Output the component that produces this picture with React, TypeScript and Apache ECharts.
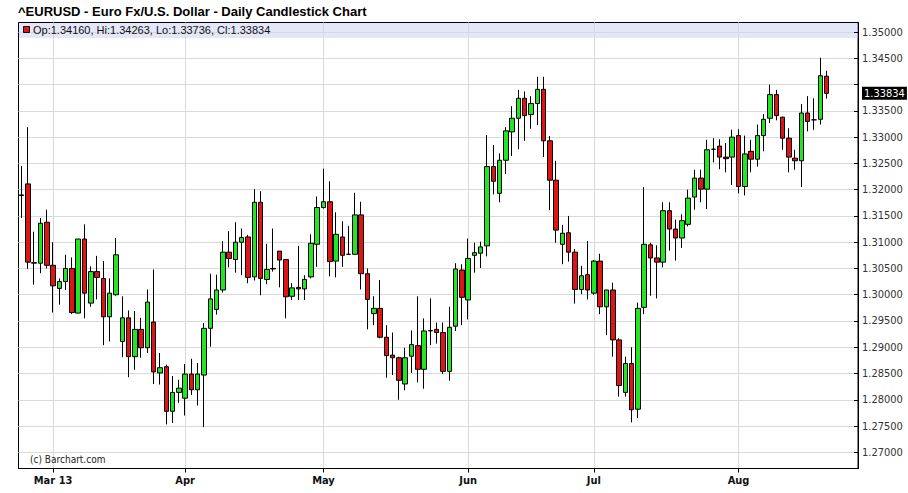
import React, { useEffect, useRef } from "react";
import * as echarts from "echarts";

// Daily EUR/USD candles, 22 Feb 2013 .. 21 Aug 2013 (trading-day index = x)
const opens = [
  1.3190, 1.3211, 1.3060, 1.3060, 1.3138, 1.3056, 1.3012, 1.3025, 1.3050, 1.2965,
  1.3106, 1.2984, 1.3044, 1.3031, 1.2958, 1.3000, 1.2911, 1.2956, 1.2882, 1.2934,
  1.2899, 1.2948, 1.2851, 1.2863, 1.2778, 1.2814, 1.2803, 1.2849, 1.2819, 1.2847,
  1.2936, 1.2972, 1.3009, 1.3081, 1.3067, 1.3100, 1.3110, 1.3034, 1.3176, 1.3029,
  1.3049, 1.3083, 1.3067, 1.2997, 1.3014, 1.3011, 1.3034, 1.3096, 1.3166, 1.3177,
  1.3064, 1.3110, 1.3077, 1.3077, 1.3152, 1.3040, 1.2964, 1.2974, 1.2919, 1.2885,
  1.2880, 1.2830, 1.2883, 1.2903, 1.2858, 1.2931, 1.2934, 1.2928, 1.2854, 1.2940,
  1.3047, 1.2990, 1.3075, 1.3079, 1.3093, 1.3244, 1.3193, 1.3256, 1.3310, 1.3336,
  1.3374, 1.3343, 1.3364, 1.3391, 1.3293, 1.3218, 1.3096, 1.3118, 1.3081, 1.3010,
  1.3038, 1.3003, 1.3064, 1.2977, 1.3009, 1.2914, 1.2814, 1.2869, 1.2782, 1.2976,
  1.3095, 1.3070, 1.3062, 1.3160, 1.3125, 1.3108, 1.3134, 1.3186, 1.3222, 1.3201,
  1.3277, 1.3283, 1.3262, 1.3262, 1.3303, 1.3206, 1.3273, 1.3258, 1.3303, 1.3336,
  1.3381, 1.3338, 1.3298, 1.3260, 1.3255, 1.3346, 1.3333, 1.3334, 1.3416,
];
const highs = [
  1.3245, 1.3319, 1.3120, 1.3146, 1.3162, 1.3100, 1.3031, 1.3076, 1.3071, 1.3106,
  1.3134, 1.3054, 1.3074, 1.3064, 1.3031, 1.3108, 1.2997, 1.2970, 1.2969, 1.2956,
  1.3010, 1.3048, 1.2889, 1.2867, 1.2845, 1.2838, 1.2868, 1.2878, 1.2870, 1.2946,
  1.3040, 1.3038, 1.3102, 1.3121, 1.3138, 1.3126, 1.3114, 1.3201, 1.3197, 1.3097,
  1.3126, 1.3083, 1.3067, 1.3022, 1.3093, 1.3037, 1.3115, 1.3187, 1.3240, 1.3216,
  1.3157, 1.3140, 1.3131, 1.3194, 1.3177, 1.3050, 1.2997, 1.3028, 1.2942, 1.2928,
  1.2882, 1.2899, 1.2932, 1.2997, 1.2955, 1.2993, 1.2947, 1.2947, 1.2977, 1.3060,
  1.3058, 1.3107, 1.3099, 1.3101, 1.3304, 1.3285, 1.3269, 1.3319, 1.3359, 1.3390,
  1.3387, 1.3378, 1.3415, 1.3415, 1.3302, 1.3255, 1.3133, 1.3150, 1.3087, 1.3055,
  1.3102, 1.3066, 1.3078, 1.3009, 1.3023, 1.2917, 1.2882, 1.2900, 1.2985, 1.3205,
  1.3099, 1.3094, 1.3176, 1.3176, 1.3143, 1.3153, 1.3200, 1.3238, 1.3238, 1.3295,
  1.3298, 1.3296, 1.3289, 1.3314, 1.3315, 1.3303, 1.3295, 1.3324, 1.3344, 1.3400,
  1.3390, 1.3339, 1.3317, 1.3276, 1.3363, 1.3378, 1.3374, 1.3451, 1.34263,
];
const lows = [
  1.3146, 1.3049, 1.3019, 1.3041, 1.3050, 1.2966, 1.2981, 1.3009, 1.2963, 1.2965,
  1.2955, 1.2977, 1.2991, 1.2904, 1.2911, 1.2998, 1.2881, 1.2843, 1.2857, 1.2880,
  1.2889, 1.2830, 1.2829, 1.2753, 1.2756, 1.2794, 1.2770, 1.2809, 1.2789, 1.2748,
  1.2901, 1.2962, 1.3004, 1.3052, 1.3042, 1.3037, 1.3022, 1.3027, 1.2999, 1.3020,
  1.3044, 1.3014, 1.2955, 1.2990, 1.2990, 1.2990, 1.3031, 1.3053, 1.3164, 1.3035,
  1.3033, 1.3053, 1.3076, 1.3077, 1.3010, 1.2934, 1.2942, 1.2917, 1.2842, 1.2847,
  1.2800, 1.2818, 1.2851, 1.2833, 1.2821, 1.2904, 1.2907, 1.2849, 1.2836, 1.2931,
  1.2942, 1.2953, 1.3042, 1.3051, 1.3073, 1.3191, 1.3176, 1.3230, 1.3264, 1.3277,
  1.3293, 1.3316, 1.3323, 1.3262, 1.3161, 1.3099, 1.3058, 1.3063, 1.2983, 1.3001,
  1.2991, 1.3000, 1.2963, 1.2923, 1.2882, 1.2806, 1.2806, 1.2757, 1.2765, 1.2963,
  1.2998, 1.2993, 1.3052, 1.3084, 1.3065, 1.3089, 1.3130, 1.3162, 1.3176, 1.3163,
  1.3252, 1.3239, 1.3233, 1.3209, 1.3193, 1.3189, 1.3233, 1.3244, 1.3273, 1.3327,
  1.3332, 1.3276, 1.3233, 1.3238, 1.3205, 1.3311, 1.3314, 1.3324, 1.33736,
];
const closes = [
  1.3189, 1.3062, 1.3061, 1.3136, 1.3056, 1.3017, 1.3025, 1.3050, 1.2966, 1.3106,
  1.3003, 1.3044, 1.3033, 1.2958, 1.3003, 1.3076, 1.2956, 1.2882, 1.2934, 1.2899,
  1.2986, 1.2853, 1.2861, 1.2778, 1.2814, 1.2822, 1.2849, 1.2819, 1.2849, 1.2936,
  1.2992, 1.3009, 1.3081, 1.3069, 1.3100, 1.3109, 1.3033, 1.3176, 1.3031, 1.3048,
  1.3050, 1.3066, 1.2996, 1.3013, 1.3011, 1.3029, 1.3098, 1.3166, 1.3177, 1.3063,
  1.3115, 1.3075, 1.3077, 1.3152, 1.3040, 1.2991, 1.2974, 1.2919, 1.2884, 1.2880,
  1.2837, 1.2880, 1.2905, 1.2858, 1.2931, 1.2932, 1.2928, 1.2854, 1.2938, 1.3049,
  1.2995, 1.3069, 1.3080, 1.3091, 1.3244, 1.3216, 1.3256, 1.3312, 1.3336, 1.3374,
  1.3341, 1.3364, 1.3391, 1.3293, 1.3218, 1.3123, 1.3117, 1.3081, 1.3010, 1.3036,
  1.3009, 1.3064, 1.2977, 1.3009, 1.2914, 1.2827, 1.2869, 1.2781, 1.2974, 1.3096,
  1.3070, 1.3062, 1.3160, 1.3125, 1.3108, 1.3141, 1.3184, 1.3222, 1.3201, 1.3276,
  1.3277, 1.3262, 1.3259, 1.3300, 1.3206, 1.3268, 1.3258, 1.3303, 1.3334, 1.3381,
  1.3341, 1.3298, 1.3262, 1.3255, 1.3346, 1.3330, 1.3333, 1.3417, 1.33834,
];

// first trading day of each month (index) and its axis label
const monthTickIndex = [5, 26, 48, 71, 91, 114];
const monthTickLabels = ["Mar 13", "Apr", "May", "Jun", "Jul", "Aug"];
const priceTicks = [
  1.27, 1.275, 1.28, 1.285, 1.29, 1.295, 1.3, 1.305, 1.31, 1.315, 1.32, 1.325,
  1.33, 1.335, 1.34, 1.345, 1.35,
];

const UP = "#22e622";
const DOWN = "#e01414";
const GRID = "#d9d9d9";
const NARROW = "'Liberation Sans Narrow', 'DejaVu Sans Condensed', 'Liberation Sans', Arial, sans-serif";
const SANS = "'Liberation Sans', Arial, sans-serif";

export default function App() {
  const ref = useRef<HTMLDivElement>(null);
  useEffect(() => {
    if (!ref.current) return;
    const chart = echarts.init(ref.current, null, { renderer: "svg" });
    const n = opens.length;
    const last = n - 1;
    const lastClose = closes[last];
    const legendText =
      "Op:" + opens[last].toFixed(5) + ", Hi:" + highs[last].toFixed(5) +
      ", Lo:" + lows[last].toFixed(5) + ", Cl:" + closes[last].toFixed(5);
    const data = opens.map((o, i) => [i, o, closes[i], lows[i], highs[i]]);
    // axis labels that would collide with the last-price box are dropped
    const labelTicks = priceTicks.filter((t) => Math.abs(t - lastClose) > 0.0022);

    chart.setOption({
      animation: false,
      backgroundColor: "#ffffff",
      grid: {
        left: 18.5,
        right: 50,
        top: 22.5,
        bottom: 24.5,
        show: true,
        borderColor: "#000",
        borderWidth: 1,
        backgroundColor: "transparent",
      },
      xAxis: {
        type: "value",
        min: -0.5,
        max: 133,
        axisLine: { show: true, onZero: false, lineStyle: { color: "#000", width: 1 } },
        axisTick: { show: true, customValues: monthTickIndex, length: 4, lineStyle: { color: "#000" } },
        axisLabel: {
          customValues: monthTickIndex,
          formatter: (v: number) => {
            const k = monthTickIndex.indexOf(Math.round(v));
            return k >= 0 ? monthTickLabels[k] : "";
          },
          fontFamily: NARROW,
          fontWeight: "bold",
          fontSize: 11,
          color: "#111",
          margin: 6,
        },
        splitLine: { show: true, lineStyle: { color: GRID, width: 1 } },
      },
      yAxis: {
        type: "value",
        position: "right",
        min: 1.26691,
        max: 1.35183,
        axisLine: { show: true, onZero: false, lineStyle: { color: "#000", width: 1 } },
        axisTick: { show: true, customValues: priceTicks, inside: true, length: 4, lineStyle: { color: "#000" } },
        axisLabel: {
          customValues: labelTicks,
          formatter: (v: number) => v.toFixed(5),
          fontFamily: NARROW,
          fontSize: 11,
          color: "#333",
          margin: 4,
        },
        splitLine: { show: true, lineStyle: { color: GRID, width: 1 } },
      },
      graphic: [
        {
          type: "rect",
          z: 0,
          silent: true,
          shape: { x: 19, y: 23, width: 839, height: 15 },
          style: { fill: "rgba(200,200,245,0.45)" },
        },
        {
          type: "rect",
          z: 10,
          silent: true,
          shape: { x: 23.5, y: 26.5, width: 6, height: 6 },
          style: { fill: DOWN, stroke: "#000", lineWidth: 1 },
        },
        {
          type: "text",
          z: 10,
          silent: true,
          x: 33,
          y: 30,
          style: {
            text: legendText,
            fontFamily: SANS,
            fontSize: 11,
            fill: "#111",
            verticalAlign: "middle",
          },
        },
        {
          type: "text",
          z: 10,
          silent: true,
          x: 18,
          y: 11.5,
          style: {
            text: "^EURUSD - Euro Fx/U.S. Dollar - Daily Candlestick Chart",
            fontFamily: SANS,
            fontWeight: "bold",
            fontSize: 13,
            fill: "#000",
            verticalAlign: "middle",
          },
        },
        {
          type: "text",
          z: 10,
          silent: true,
          x: 30,
          y: 459,
          style: {
            text: "(c) Barchart.com",
            fontFamily: NARROW,
            fontSize: 10,
            fill: "#222",
            verticalAlign: "middle",
          },
        },
      ],
      series: [
        {
          type: "candlestick",
          data,
          barWidth: 5,
          encode: { x: 0, y: [1, 2, 3, 4] },
          itemStyle: {
            color: UP,
            color0: DOWN,
            borderColor: "#000",
            borderColor0: "#000",
            borderColorDoji: "#000",
            borderWidth: 1,
          },
        },
      ],
    });

    // last-price box on the price axis, placed through the axis scale
    const yPix = chart.convertToPixel({ yAxisIndex: 0 }, lastClose) as number;
    chart.setOption({
      graphic: [
        {
          id: "lastPrice",
          type: "text",
          z: 20,
          silent: true,
          x: 862,
          y: yPix,
          style: {
            text: lastClose.toFixed(5),
            fontFamily: NARROW,
            fontSize: 11,
            fill: "#fff",
            backgroundColor: "#000",
            padding: [1, 2, 1, 2],
            verticalAlign: "middle",
          },
        },
      ],
    });
    return () => chart.dispose();
  }, []);
  return (
    <div
      ref={ref}
      style={{ position: "fixed", left: 0, top: 0, width: 908, height: 493 }}
    />
  );
}
